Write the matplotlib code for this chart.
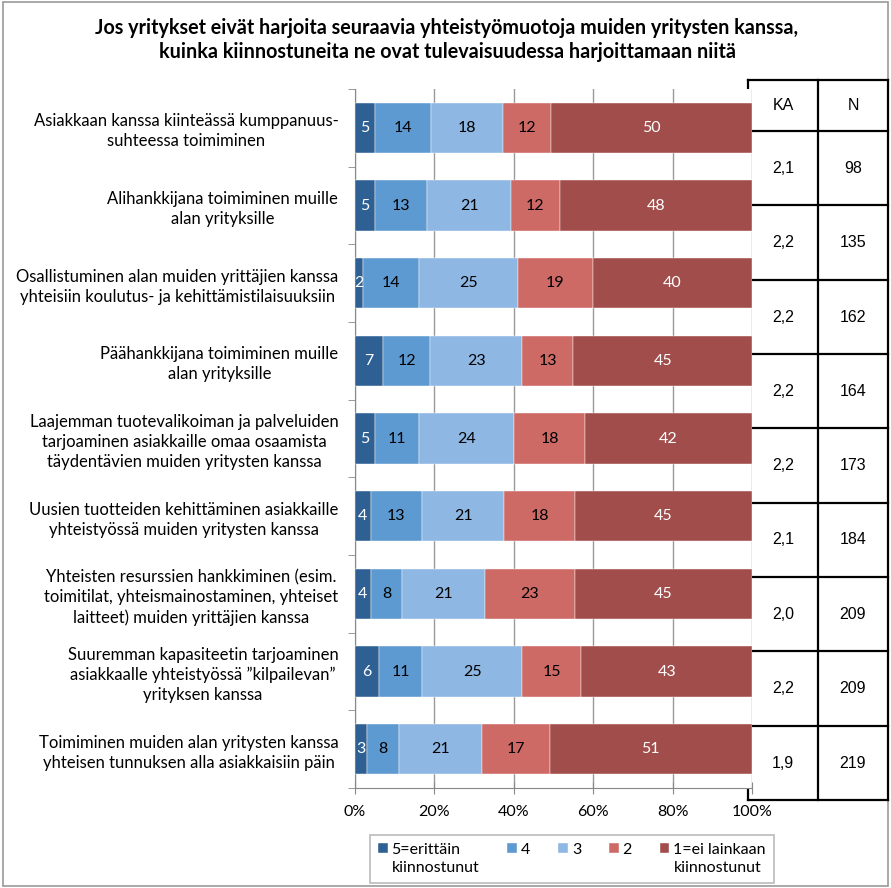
import matplotlib.pyplot as plt
import numpy as np
from matplotlib.patches import Rectangle
from matplotlib.lines import Line2D

W, H = 891, 888

categories = [
    "Asiakkaan kanssa kiinteässä kumppanuus-\nsuhteessa toimiminen",
    "Alihankkijana toimiminen muille\nalan yrityksille",
    "Osallistuminen alan muiden yrittäjien kanssa\nyhteisiin koulutus- ja kehittämistilaisuuksiin",
    "Päähankkijana toimiminen muille\nalan yrityksille",
    "Laajemman tuotevalikoiman ja palveluiden\ntarjoaminen asiakkaille omaa osaamista\ntäydentävien muiden yritysten kanssa",
    "Uusien tuotteiden kehittäminen asiakkaille\nyhteistyössä muiden yritysten kanssa",
    "Yhteisten resurssien hankkiminen (esim.\ntoimitilat, yhteismainostaminen, yhteiset\nlaitteet) muiden yrittäjien kanssa",
    "Suuremman kapasiteetin tarjoaminen\nasiakkaalle yhteistyössä ”kilpailevan”\nyrityksen kanssa",
    "Toimiminen muiden alan yritysten kanssa\nyhteisen tunnuksen alla asiakkaisiin päin",
]

series_names = ["5=erittäin\nkiinnostunut", "4", "3", "2", "1=ei lainkaan\nkiinnostunut"]
v5 = [5, 5, 2, 7, 5, 4, 4, 6, 3]
v4 = [14, 13, 14, 12, 11, 13, 8, 11, 8]
v3 = [18, 21, 25, 23, 24, 21, 21, 25, 21]
v2 = [12, 12, 19, 13, 18, 18, 23, 15, 17]
v1 = [50, 48, 40, 45, 42, 45, 45, 43, 51]

ka = ["2,1", "2,2", "2,2", "2,2", "2,2", "2,1", "2,0", "2,2", "1,9"]
n = ["98", "135", "162", "164", "173", "184", "209", "209", "219"]

colors = ["#2F6094", "#5E9AD2", "#8EB7E3", "#CD6A66", "#A14D4B"]
text_colors = ["white", "black", "black", "black", "white"]

font = "Lato"
plt.rcParams["font.family"] = [font, "DejaVu Sans"]

fig = plt.figure(figsize=(W / 100, H / 100), dpi=100)


def fx(px):
    return px / W


def fy(py):
    return 1 - py / H


ax = fig.add_axes([fx(355), fy(788), fx(752) - fx(355), fy(89) - fy(788)])
ax.set_zorder(1)
ax.patch.set_facecolor("white")

data = np.array([v5, v4, v3, v2, v1], dtype=float)
pct = data / data.sum(axis=0) * 100
y = np.arange(len(categories))
left = np.zeros(len(categories))
for i in range(len(series_names)):
    bars = ax.barh(y, pct[i], left=left, height=0.645, color=colors[i],
                   label=series_names[i], zorder=3, edgecolor="white", linewidth=0.3)
    for j, b in enumerate(bars):
        ax.text(left[j] + pct[i][j] / 2, y[j], str(int(data[i][j])),
                ha="center", va="center", fontsize=11.5, color=text_colors[i], zorder=4)
    left += pct[i]

ax.set_xlim(0, 100)
ax.set_ylim(len(categories) - 0.5, -0.5)
ax.set_xticks(np.arange(0, 101, 20))
ax.set_xticklabels([f"{t}%" for t in range(0, 101, 20)], fontsize=11.5)
ax.set_yticks(y)
ax.set_yticklabels(categories, fontsize=11.95, multialignment="center", linespacing=1.3)
ax.set_yticks(np.arange(-0.5, len(categories), 1), minor=True)
ax.tick_params(axis="y", which="major", length=0, pad=12)
ax.tick_params(axis="y", which="minor", length=5, color="#888888", direction="out")
ax.tick_params(axis="x", length=8, color="#888888", direction="inout", pad=8)
ax.grid(axis="x", color="#999999", linewidth=1.0, zorder=0)
for s in ["top", "right"]:
    ax.spines[s].set_visible(False)
for s in ["left", "bottom"]:
    ax.spines[s].set_color("#888888")

# side table with KA and N
col_x = [748, 818, 888]
row_y = [80, 131, 205, 280, 354, 428, 503, 577, 651, 726, 800]
for cx in col_x:
    fig.add_artist(Line2D([fx(cx), fx(cx)], [fy(row_y[0]), fy(row_y[-1])],
                          color="black", linewidth=1.6, zorder=-1))
for ry in row_y:
    fig.add_artist(Line2D([fx(col_x[0]), fx(col_x[-1])], [fy(ry), fy(ry)],
                          color="black", linewidth=1.6, zorder=-1))
tfont = ["Liberation Sans", "DejaVu Sans"]
fig.text(fx(783), fy((row_y[0] + row_y[1]) / 2), "KA", ha="center", va="center",
         fontsize=11.5, family=tfont)
fig.text(fx(853), fy((row_y[0] + row_y[1]) / 2), "N", ha="center", va="center",
         fontsize=11.5, family=tfont)
for k in range(len(ka)):
    yc = fy((row_y[k + 1] + row_y[k + 2]) / 2)
    fig.text(fx(783), yc, ka[k], ha="center", va="center", fontsize=11.5, family=tfont)
    fig.text(fx(853), yc, n[k], ha="center", va="center", fontsize=11.5, family=tfont)

fig.text(fx(447), fy(40), "Jos yritykset eivät harjoita seuraavia yhteistyömuotoja muiden yritysten kanssa,\n"
         "kuinka kiinnostuneita ne ovat tulevaisuudessa harjoittamaan niitä",
         ha="center", va="center", fontsize=14.2, fontweight="bold", linespacing=1.3)

leg = fig.legend(loc="center", bbox_to_anchor=(fx(572), fy(859)), ncol=5,
                 fontsize=11.5, frameon=True, fancybox=False, edgecolor="#AAAAAA",
                 handlelength=0.6, handleheight=0.6, handletextpad=0.25,
                 columnspacing=1.75, borderpad=0.5, borderaxespad=0)
leg.get_frame().set_linewidth(1.2)
for t in leg.get_texts():
    t.set_linespacing(1.35)
# handles and short labels on the first text line, like the original
leg._legend_handle_box.align = "top"
for col in leg._legend_handle_box.get_children():
    col.align = "top"
    for row in col.get_children():
        row.align = "top"

fig.add_artist(Rectangle((fx(3), fy(886)), fx(885), fy(2) - fy(886),
                         transform=fig.transFigure, fill=False, edgecolor="#999999",
                         linewidth=1.2, zorder=-2))

fig.savefig("out.png", dpi=100)
